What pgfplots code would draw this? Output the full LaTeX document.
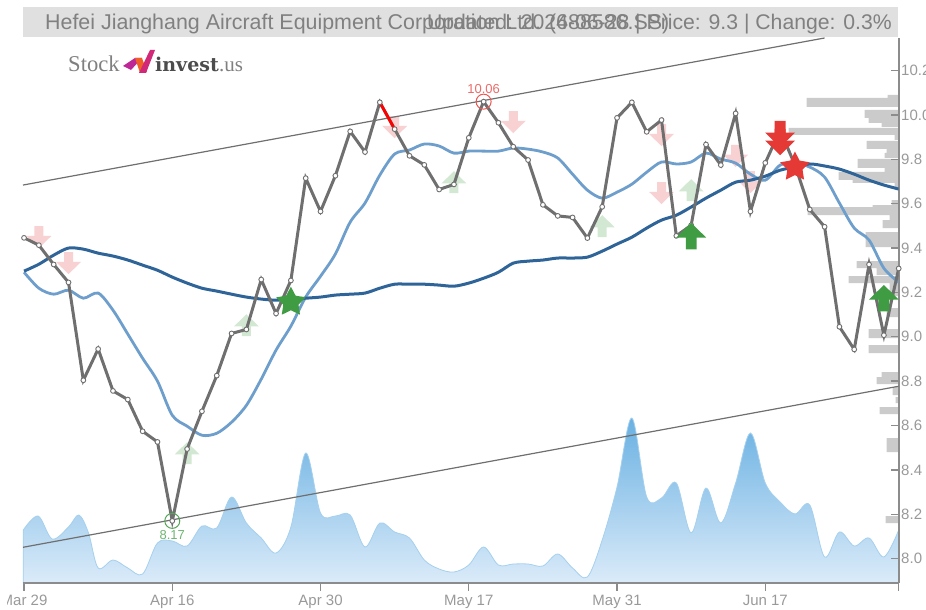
\documentclass[border=0pt]{standalone}
\usepackage{pgfplots}
\usepackage{pgfplotstable}
\pgfplotsset{compat=1.18}
\usepackage{fontspec}
\setmainfont{Liberation Sans}
\newfontfamily\logoserif{Liberation Serif}
\newfontfamily\logobold{DejaVu Serif}
\definecolor{axgray}{HTML}{8C8C8C}
\definecolor{labgray}{HTML}{999999}
\definecolor{closegray}{HTML}{6F6F6F}
\definecolor{maDark}{HTML}{2F6498}
\definecolor{maLight}{HTML}{6E9FCC}
\definecolor{softred}{HTML}{F8D2D2}
\definecolor{softgreen}{HTML}{D2E8D3}
\definecolor{hardred}{HTML}{E53935}
\definecolor{hardgreen}{HTML}{3F9C43}
\definecolor{profile}{HTML}{CBCBCB}
\definecolor{volline}{HTML}{A5D0EE}
\definecolor{voltop}{HTML}{68B0E2}
\definecolor{volbot}{HTML}{DBEBF9}
\definecolor{logoA}{HTML}{BE2896}
\definecolor{logoB}{HTML}{F05F28}
\definecolor{logoC}{HTML}{D22878}
\pgfdeclareplotmark{upa}{%
 \pgfpathmoveto{\pgfqpoint{0pt}{.88\pgfplotmarksize}}%
 \pgfpathlineto{\pgfqpoint{\pgfplotmarksize}{-.1\pgfplotmarksize}}%
 \pgfpathlineto{\pgfqpoint{.36\pgfplotmarksize}{-.1\pgfplotmarksize}}%
 \pgfpathlineto{\pgfqpoint{.36\pgfplotmarksize}{-.88\pgfplotmarksize}}%
 \pgfpathlineto{\pgfqpoint{-.36\pgfplotmarksize}{-.88\pgfplotmarksize}}%
 \pgfpathlineto{\pgfqpoint{-.36\pgfplotmarksize}{-.1\pgfplotmarksize}}%
 \pgfpathlineto{\pgfqpoint{-\pgfplotmarksize}{-.1\pgfplotmarksize}}%
 \pgfpathclose\pgfusepathqfill}
\pgfdeclareplotmark{downa}{%
 \pgfpathmoveto{\pgfqpoint{0pt}{-.88\pgfplotmarksize}}%
 \pgfpathlineto{\pgfqpoint{\pgfplotmarksize}{.1\pgfplotmarksize}}%
 \pgfpathlineto{\pgfqpoint{.36\pgfplotmarksize}{.1\pgfplotmarksize}}%
 \pgfpathlineto{\pgfqpoint{.36\pgfplotmarksize}{.88\pgfplotmarksize}}%
 \pgfpathlineto{\pgfqpoint{-.36\pgfplotmarksize}{.88\pgfplotmarksize}}%
 \pgfpathlineto{\pgfqpoint{-.36\pgfplotmarksize}{.1\pgfplotmarksize}}%
 \pgfpathlineto{\pgfqpoint{-\pgfplotmarksize}{.1\pgfplotmarksize}}%
 \pgfpathclose\pgfusepathqfill}
\pgfdeclareplotmark{fatstar}{%
 \pgfpathmoveto{\pgfqpoint{0pt}{\pgfplotmarksize}}%
 \pgfpathlineto{\pgfqpoint{-.305\pgfplotmarksize}{.42\pgfplotmarksize}}%
 \pgfpathlineto{\pgfqpoint{-.951\pgfplotmarksize}{.309\pgfplotmarksize}}%
 \pgfpathlineto{\pgfqpoint{-.49\pgfplotmarksize}{-.16\pgfplotmarksize}}%
 \pgfpathlineto{\pgfqpoint{-.588\pgfplotmarksize}{-.809\pgfplotmarksize}}%
 \pgfpathlineto{\pgfqpoint{0pt}{-.52\pgfplotmarksize}}%
 \pgfpathlineto{\pgfqpoint{.588\pgfplotmarksize}{-.809\pgfplotmarksize}}%
 \pgfpathlineto{\pgfqpoint{.49\pgfplotmarksize}{-.16\pgfplotmarksize}}%
 \pgfpathlineto{\pgfqpoint{.951\pgfplotmarksize}{.309\pgfplotmarksize}}%
 \pgfpathlineto{\pgfqpoint{.305\pgfplotmarksize}{.42\pgfplotmarksize}}%
 \pgfpathclose\pgfusepathqfill}
\pgfplotsset{box/.style={scale only axis,width=875.7pt,height=545pt,at={(23pt,27pt)},anchor=south west}}
\pgfplotstableread{
i p
0 9.446
1 9.413
2 9.326
3 9.245
4 8.804
5 8.945
6 8.756
7 8.717
8 8.574
9 8.526
10 8.17
11 8.494
12 8.664
13 8.825
14 9.015
15 9.033
16 9.258
17 9.105
18 9.254
19 9.715
20 9.565
21 9.726
22 9.926
23 9.833
24 10.057
25 9.936
26 9.816
27 9.775
28 9.664
29 9.687
30 9.897
31 10.06
32 9.965
33 9.857
34 9.797
35 9.595
36 9.545
37 9.538
38 9.445
39 9.586
40 9.987
41 10.057
42 9.924
43 9.977
44 9.455
45 9.503
46 9.867
47 9.774
48 10.007
49 9.565
50 9.784
51 9.932
52 9.774
53 9.574
54 9.496
55 9.045
56 8.943
57 9.326
58 9.007
59 9.308
}\closetable
\begin{document}
\begin{tikzpicture}
\path[use as bounding box] (0,0) rectangle (926pt,610pt);
% volume profile
\begin{axis}[box,hide axis,xmin=0,xmax=875.7,x dir=reverse,ymin=38,ymax=583,y dir=reverse,clip=true]
\addplot[fill=profile,draw=none] coordinates {
(0,95)(11,95)(11,98)(92,98)(92,107)(0,107)
(0,110)(34,110)(34,118)(30,118)(30,123)(17,123)(17,127)(0,127)
(0,128)(110,128)(110,135)(4,135)(4,140)(0,140)
(0,141)(32,141)(32,149)(12,149)(12,153)(14,153)(14,158)(0,158)
(0,159)(41,159)(41,168)(14,168)(14,172)(60,172)(60,180)(46,180)(46,183)(4,183)(4,187)(0,187)
(0,200)(7,200)(7,205)(26,205)(26,207)(91,207)(91,215)(9,215)(9,220)(16,220)(16,228)(0,228)
(0,232)(33,232)(33,247)(0,247)
(0,261)(42,261)(42,268)(22,268)(22,275)(0,275)(0,276)(50,276)(50,283)(9,283)(9,296)(0,296)
(0,308)(12,308)(12,317)(0,317)
(0,329)(30,329)(30,338)(0,338)
(0,345)(30,345)(30,353)(0,353)
(0,372)(17,372)(17,377)(22,377)(22,384)(0,384)
(0,387)(6,387)(6,395)(0,395)
(0,397)(3,397)(3,403)(0,403)
(0,407)(19,407)(19,414)(0,414)
(0,438)(12,438)(12,452)(0,452)
(0,516)(13,516)(13,523)(0,523)(0,95)};
\end{axis}
% traded volume
\begin{axis}[box,hide axis,xmin=-0.07,xmax=59,ymin=0,ymax=545,clip=false]
\addplot[smooth,tension=0.55,draw=volline,line width=0.8pt,top color=voltop,bottom color=volbot] coordinates {
(-0.05,53)(0.95,67)(1.9,44)(3,56)(3.7,68)(4.35,50)(5,15)(6,23)(7,15)(8,9)(9,40)(10,42)(11,37)(12,57)(13,55)(14,86)(15,60)(16,45)(17,30)(18,56)(19,130)(20,70)(21,67)(22,68)(23,36)(24,60)(25,51)(26,45)(27,23)(28,14)(29,11)(30,18)(31,36)(32,18)(33,19)(34,19)(35,17)(36,29)(37,15)(38,6)(39,43)(40,96)(41,165)(42,86)(43,85)(44,100)(45,50)(46,95)(47,60)(48,100)(49,150)(50,100)(51,81)(52,69)(53,78)(54,26)(55,51)(56,37)(57,45)(58,26)(59,53)} \closedcycle;
\end{axis}
% price panel
\begin{axis}[box,xmin=-0.07,xmax=59,ymin=7.89,ymax=10.347,clip=true,clip mode=individual,
 axis x line*=bottom,axis y line*=right,axis line style={-,color=axgray,line width=1.8pt},
 xtick={0,10,20,30,40,50,59},xticklabels={Mar 29,Apr 16,Apr 30,May 17,May 31,Jun 17,{}},
 ytick={8,8.2,8.4,8.6,8.8,9,9.2,9.4,9.6,9.8,10,10.2},
 xtick align=outside,ytick align=inside,
 major tick length=7.5pt,
 tick style={color=axgray,line width=1.3pt},
 tick label style={font=\fontsize{15}{15}\selectfont,color=labgray},
 /pgf/number format/assume math mode=true,
 /pgf/number format/fixed,
 /pgf/number format/fixed zerofill,
 /pgf/number format/precision=1,
 xticklabel style={yshift=-1pt},
 yticklabel style={xshift=-1pt}]
% faded signals
\addplot[only marks,mark=downa,mark size=12.5,color=softred,mark options={fill=softred,draw=none}] coordinates {(1,9.449)(3,9.332)(25,9.945)(33,9.968)(43,9.909)(43,9.648)(48,9.815)(49,9.697)};
\addplot[only marks,mark=upa,mark size=12.5,color=softgreen,mark options={fill=softgreen,draw=none}] coordinates {(11,8.475)(15,9.052)(29,9.697)(39,9.499)(45,9.661)};
% channel
\addplot[color=closegray,line width=1.2pt,no marks] coordinates {(-0.07,9.684)(54,10.347)};
\addplot[color=closegray,line width=1.2pt,no marks] coordinates {(-0.07,8.051)(59,8.777)};
% moving averages
\addplot[color=maLight,line width=2.8pt,smooth,tension=0.5,no marks] coordinates {
(0,9.291)(1,9.219)(2,9.192)(3,9.210)(4,9.174)(5,9.197)(6,9.120)(7,9.012)(8,8.903)(9,8.800)(10,8.646)(11,8.597)(12,8.556)(13,8.565)(14,8.615)(15,8.691)(16,8.809)(17,8.940)(18,9.048)(19,9.179)(20,9.273)(21,9.373)(22,9.517)(23,9.603)(24,9.729)(25,9.824)(26,9.842)(27,9.869)(28,9.860)(29,9.828)(30,9.837)(31,9.837)(32,9.837)(33,9.851)(34,9.846)(35,9.833)(36,9.806)(37,9.733)(38,9.661)(39,9.625)(40,9.652)(41,9.688)(42,9.742)(43,9.788)(44,9.779)(45,9.788)(46,9.828)(47,9.801)(48,9.783)(49,9.733)(50,9.706)(51,9.774)(52,9.783)(53,9.765)(54,9.720)(55,9.603)(56,9.490)(57,9.436)(58,9.309)(59,9.246)};
\addplot[color=maDark,line width=3pt,smooth,tension=0.5,no marks] coordinates {
(0,9.296)(1,9.327)(2,9.368)(3,9.400)(4,9.395)(5,9.377)(6,9.364)(7,9.346)(8,9.323)(9,9.300)(10,9.269)(11,9.242)(12,9.219)(13,9.206)(14,9.192)(15,9.179)(16,9.170)(17,9.165)(18,9.170)(19,9.174)(20,9.179)(21,9.188)(22,9.192)(23,9.197)(24,9.219)(25,9.237)(26,9.237)(27,9.237)(28,9.233)(29,9.228)(30,9.242)(31,9.264)(32,9.291)(33,9.332)(34,9.341)(35,9.346)(36,9.355)(37,9.355)(38,9.359)(39,9.386)(40,9.418)(41,9.449)(42,9.490)(43,9.526)(44,9.548)(45,9.585)(46,9.625)(47,9.661)(48,9.697)(49,9.706)(50,9.724)(51,9.751)(52,9.765)(53,9.779)(54,9.770)(55,9.756)(56,9.733)(57,9.706)(58,9.684)(59,9.666)};
% close: line, red stretch, then the markers above both
\addplot[color=closegray,line width=3pt,no marks] table[x=i,y=p] {\closetable};
\addplot[color=red,line width=2.8pt,no marks] coordinates {(24,10.057)(25,9.936)};
\addplot[only marks,mark=*,mark size=2.4pt,mark options={fill=white,draw=closegray,line width=0.9pt,solid}] table[x=i,y=p] {\closetable};
% extremes
\addplot[only marks,mark=o,mark size=7.5pt,color=hardred!85!white,mark options={line width=1pt}] coordinates {(31,10.06)};
\addplot[only marks,mark=o,mark size=7.5pt,color=hardgreen!90!white,mark options={line width=1pt}] coordinates {(10,8.17)};
\node[font=\fontsize{13}{13}\selectfont,color=hardred!75!white] at (axis cs:31,10.115) {10.06};
\node[font=\fontsize{13}{13}\selectfont,color=hardgreen!75!white] at (axis cs:10,8.105) {8.17};
% strong signals
\addplot[only marks,mark=upa,mark size=15,color=hardgreen,mark options={fill=hardgreen,draw=none}] coordinates {(45,9.454)(58,9.174)};
\addplot[only marks,mark=downa,mark size=15,color=hardred,mark options={fill=hardred,draw=none}] coordinates {(51,9.914)(51,9.878)};
\addplot[only marks,mark=fatstar,mark size=15.5,color=hardred,mark options={fill=hardred,draw=none}] coordinates {(52,9.765)};
\addplot[only marks,mark=fatstar,mark size=15.5,color=hardgreen,mark options={fill=hardgreen,draw=none}] coordinates {(18,9.156)};
\end{axis}
% title strip, logo, left clip
\begin{scope}[x=1pt,y=-1pt,shift={(0pt,610pt)}]
\fill[white] (0,583) rectangle (6.5,610);
\fill[black!12] (23,7) rectangle (898,37);
\node[anchor=base west,inner sep=0pt,color=black!50,font=\fontsize{21.4}{21}\selectfont] at (45,30) {Hefei Jianghang Aircraft Equipment Corporation Ltd. (688586.SS)};
\node[anchor=base east,inner sep=0pt,color=black!50,font=\fontsize{21.2}{21}\selectfont] at (892,30) {Updated: 2024-06-28 | Price: 9.3 | Change: 0.3\%};
\node[anchor=base west,inner sep=0pt,color=black!50,font=\logoserif\fontsize{22.6}{22}\selectfont] at (68,72) {Stock};
\node[anchor=base west,inner sep=0pt,color=black!70,font=\logobold\bfseries\fontsize{19}{19}\selectfont] at (155,72) {invest};
\node[anchor=base west,inner sep=0pt,color=black!50,font=\logoserif\fontsize{21}{21}\selectfont] at (219,72) {.us};
\fill[logoA] (123,66)--(135,58)--(142,58)--(131,70)--cycle;
\fill[logoB] (135,58)--(142,58)--(147,72)--(140,73)--cycle;
\fill[logoC] (150,50)--(155,50)--(146,73)--(139,73)--cycle;
\end{scope}
\end{tikzpicture}
\end{document}
